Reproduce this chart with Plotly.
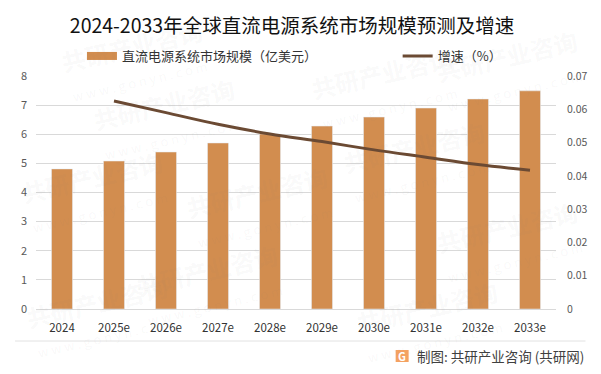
import plotly.graph_objects as go

categories = ["2024", "2025e", "2026e", "2027e", "2028e", "2029e", "2030e", "2031e", "2032e", "2033e"]
market_size = [4.81, 5.08, 5.39, 5.70, 6.01, 6.28, 6.59, 6.90, 7.21, 7.49]
growth = [None, 0.0625, 0.0590, 0.0555, 0.0526, 0.0503, 0.0478, 0.0456, 0.0434, 0.0417]
left_ticks = [0, 1, 2, 3, 4, 5, 6, 7, 8]
right_ticks = [0, 0.01, 0.02, 0.03, 0.04, 0.05, 0.06, 0.07]
right_labels = ["0", "0.01", "0.02", "0.03", "0.04", "0.05", "0.06", "0.07"]

# Watermark stamp centres, in page pixels
wm_px = [(135, 60), (385, 87), (167, 117), (417, 160), (510, 70),
         (95, 190), (210, 283), (430, 320), (260, 205), (510, 240), (100, 315)]

FONT = "Noto Sans CJK SC"
BAR = "#D28D4F"
LINE = "#6B4A33"
W, H = 601, 374
L, R, T, B = 36, 556.5, 76, 309


def px(x):
    return (x - L) / (R - L)


def py(y):
    return (B - y) / (B - T)


fig = go.Figure()
fig.add_trace(go.Bar(x=categories, y=market_size, marker_color=BAR, width=0.404, showlegend=False,
                     legendgroup="a", name="直流电源系统市场规模（亿美元）"))
fig.add_trace(go.Scatter(x=[categories[0]], y=[None], mode="lines", line=dict(color=BAR, width=8),
                         name="直流电源系统市场规模（亿美元）", legendgroup="a", legend="legend"))
fig.add_trace(go.Scatter(x=categories, y=growth, yaxis="y2", mode="lines",
                         line=dict(color=LINE, width=3, shape="spline"), name="增速（%）", legend="legend2"))

shapes = [dict(type="line", xref="paper", yref="paper", x0=px(15), x1=px(586), y0=py(341), y1=py(341),
               line=dict(color="#E2E2E2", width=1), layer="above"),
          dict(type="rect", xref="paper", yref="paper", x0=px(396), x1=px(409), y0=py(362), y1=py(350),
               fillcolor="#F4A261", line=dict(width=0), layer="above")]
annotations = [dict(text="<b>G</b>", xref="paper", yref="paper", x=px(402.5), y=py(356), showarrow=False,
                    xanchor="center", yanchor="middle", font=dict(family=FONT, size=11, color="white")),
               dict(text="制图: 共研产业咨询 (共研网)", xref="paper", yref="paper", x=px(587), y=py(356),
                    xanchor="right", yanchor="middle", showarrow=False,
                    font=dict(family=FONT, size=13.5, color="#404040"))]
for wx, wy in wm_px:
    annotations.append(dict(text="<b>共研产业咨询</b><br><span style='font-size:13px'>w w w . g o n y n . c o m</span>",
                            xref="paper", yref="paper", x=px(wx), y=py(wy), showarrow=False, textangle=-13,
                            xanchor="center", yanchor="middle",
                            font=dict(family=FONT, size=24, color="rgba(120,120,120,0.05)")))

legend_common = dict(orientation="h", xanchor="left", yanchor="middle", y=py(56), itemwidth=30,
                     font=dict(family=FONT, size=13, color="#333333"), bgcolor="rgba(0,0,0,0)")

fig.update_layout(
    width=W, height=H, paper_bgcolor="white", plot_bgcolor="rgba(0,0,0,0)",
    margin=dict(l=L, r=W - R, t=T, b=H - B), bargap=0.6, autosize=False,
    font=dict(family=FONT, color="#595959", size=11),
    title=dict(text="2024-2033年全球直流电源系统市场规模预测及增速", x=292 / W, xanchor="center", y=1 - 26 / H, yanchor="middle",
               font=dict(family=FONT, size=19.5, color="#111111")),
    xaxis=dict(type="category", tickfont=dict(size=11.5, color="#333333"), ticks="", showline=True,
               linecolor="#D9D9D9", showgrid=False, ticklabelstandoff=8),
    yaxis=dict(range=[0, 8], tickvals=left_ticks, gridcolor="#D9D9D9", zeroline=False, ticks="",
               tickfont=dict(size=11, color="#595959"), showline=False, ticklabelstandoff=8),
    yaxis2=dict(range=[0, 0.07], tickvals=right_ticks, ticktext=right_labels, overlaying="y", side="right",
                showgrid=False, zeroline=False, ticks="", tickfont=dict(size=10.5, color="#595959"),
                ticklabelstandoff=10),
    legend=dict(x=px(82), **legend_common),
    legend2=dict(x=px(398), **legend_common),
    shapes=shapes, annotations=annotations,
)
fig.write_html("out.html", config=dict(displayModeBar=False),
               post_script="document.body.style.margin='0';")
